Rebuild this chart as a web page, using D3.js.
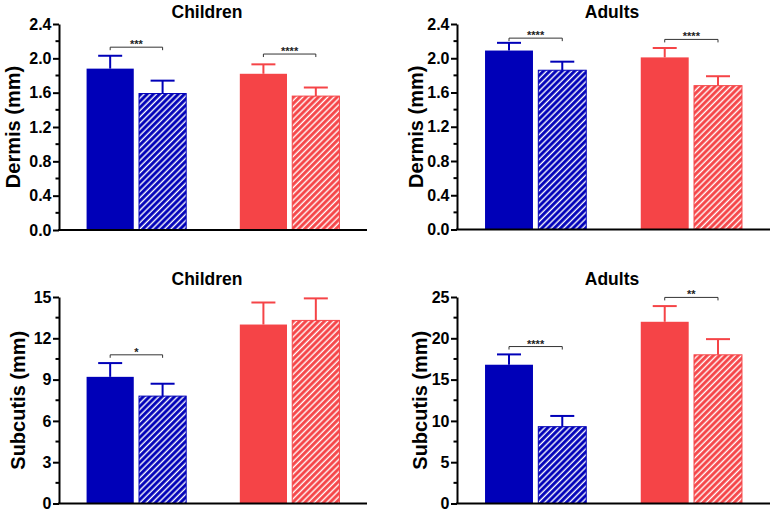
<!DOCTYPE html>
<html><head><meta charset="utf-8">
<script src="https://cdn.jsdelivr.net/npm/d3@7"></script>
<style>body{margin:0;background:#fff}svg{display:block}</style>
</head><body>
<svg id="c" width="776" height="514"></svg>
<script>
// ---- data ----
const groups = ["Group 1", "Group 2"];
const conditions = ["solid", "hatched"];
const dermisChildren = [1.88, 1.59, 1.82, 1.56];
const dermisChildrenErr = [0.15, 0.15, 0.11, 0.10];
const dermisAdults = [2.09, 1.86, 2.01, 1.68];
const dermisAdultsErr = [0.09, 0.10, 0.11, 0.11];
const subcutisChildren = [9.2, 7.8, 13.0, 13.3];
const subcutisChildrenErr = [1.0, 0.9, 1.6, 1.6];
const subcutisAdults = [16.8, 9.3, 22.0, 18.0];
const subcutisAdultsErr = [1.25, 1.3, 1.9, 1.9];
const dermisTicks = [0, 0.4, 0.8, 1.2, 1.6, 2.0, 2.4];
const subChildTicks = [0, 3, 6, 9, 12, 15];
const subAdultTicks = [0, 5, 10, 15, 20, 25];
// significance: [group index, y value, label]
const sigDermisChildren = [[0, 2.13, "***"], [1, 2.05, "****"]];
const sigDermisAdults = [[0, 2.235, "****"], [1, 2.22, "****"]];
const sigSubChildren = [[0, 10.8, "*"]];
const sigSubAdults = [[0, 19.0, "****"], [1, 24.95, "**"]];

const BLUE = "#0000B8", RED = "#F54447";
const colors = [BLUE, RED];

const svg = d3.select("#c");
const defs = svg.append("defs");
colors.forEach((c, i) => {
  const p = defs.append("pattern").attr("id", "hatch" + i)
    .attr("patternUnits", "userSpaceOnUse").attr("width", 4.4).attr("height", 4.4)
    .attr("patternTransform", "rotate(45)");
  p.append("rect").attr("width", 4.4).attr("height", 4.4).attr("fill", c);
  p.append("line").attr("x1", 1.2).attr("x2", 1.2).attr("y1", 0).attr("y2", 4.4)
    .attr("stroke", "#fff").attr("stroke-width", 1.4);
});

const panels = [
  {title: "Children", ylab: "Dermis (mm)", vals: dermisChildren, err: dermisChildrenErr, ticks: dermisTicks, max: 2.4, fmt: d3.format(".1f"), sig: sigDermisChildren,
   x0: 59, x1: 367, y0: 24, y1: 230, labX: 13, titleY: 18, titleX: 207},
  {title: "Adults", ylab: "Dermis (mm)", vals: dermisAdults, err: dermisAdultsErr, ticks: dermisTicks, max: 2.4, fmt: d3.format(".1f"), sig: sigDermisAdults,
   x0: 457, x1: 770, y0: 24, y1: 229.5, labX: 416, titleY: 18, titleX: 612},
  {title: "Children", ylab: "Subcutis (mm)", vals: subcutisChildren, err: subcutisChildrenErr, ticks: subChildTicks, max: 15, fmt: d3.format("d"), sig: sigSubChildren,
   x0: 59, x1: 367, y0: 297, y1: 503.5, labX: 18, titleY: 285, titleX: 207},
  {title: "Adults", ylab: "Subcutis (mm)", vals: subcutisAdults, err: subcutisAdultsErr, ticks: subAdultTicks, max: 25, fmt: d3.format("d"), sig: sigSubAdults,
   x0: 457, x1: 770, y0: 297, y1: 503.5, labX: 420, titleY: 285, titleX: 612}
];

const FONT = "'Liberation Sans', Arial, sans-serif";

panels.forEach(P => {
  const g = svg.append("g");
  const y = d3.scaleLinear().domain([0, P.max]).range([P.y1, P.y0]);
  const xg = d3.scaleBand().domain(groups).range([P.x0, P.x1]).paddingInner(0.35).paddingOuter(0.18);
  const xc = d3.scaleBand().domain(conditions).range([0, xg.bandwidth()]).paddingInner(0.1);

  const data = [];
  groups.forEach((gr, gi) => conditions.forEach((cd, ci) => {
    const k = gi * 2 + ci;
    data.push({gi, ci, gr, cd, v: P.vals[k], e: P.err[k]});
  }));

  // error bars
  data.forEach(d => {
    const cx = xg(d.gr) + xc(d.cd) + xc.bandwidth() / 2;
    const col = colors[d.gi];
    g.append("line").attr("x1", cx).attr("x2", cx).attr("y1", y(d.v)).attr("y2", y(d.v + d.e))
      .attr("stroke", col).attr("stroke-width", 2);
    g.append("line").attr("x1", cx - 12).attr("x2", cx + 12).attr("y1", y(d.v + d.e)).attr("y2", y(d.v + d.e))
      .attr("stroke", col).attr("stroke-width", 2);
  });
  // bars
  g.selectAll("rect.bar").data(data).join("rect").attr("class", "bar")
    .attr("x", d => xg(d.gr) + xc(d.cd))
    .attr("width", xc.bandwidth())
    .attr("y", d => y(d.v))
    .attr("height", d => y(0) - y(d.v))
    .attr("fill", d => d.ci === 0 ? colors[d.gi] : `url(#hatch${d.gi})`)
    .attr("stroke", d => d.ci === 0 ? "none" : colors[d.gi])
    .attr("stroke-width", 1);

  // y axis
  const ax = d3.axisLeft(y).tickValues(P.ticks).tickFormat(P.fmt).tickSize(6).tickSizeOuter(0);
  const ag = g.append("g").attr("transform", `translate(${P.x0},0)`).call(ax);
  ag.select(".domain").attr("stroke", "#000").attr("stroke-width", 2);
  ag.selectAll(".tick line").attr("stroke-width", 2);
  ag.selectAll(".tick text").attr("font-family", FONT).attr("font-weight", "bold").attr("font-size", 16).attr("fill", "#000").attr("x", -7.5);
  // minor ticks
  const minors = [];
  for (let i = 0; i < P.ticks.length - 1; i++) minors.push((P.ticks[i] + P.ticks[i + 1]) / 2);
  g.selectAll("line.minor").data(minors).join("line").attr("class", "minor")
    .attr("x1", P.x0 - 3.5).attr("x2", P.x0).attr("y1", d => y(d)).attr("y2", d => y(d))
    .attr("stroke", "#000").attr("stroke-width", 2);
  // x axis line
  g.append("line").attr("x1", P.x0 - 1).attr("x2", P.x1).attr("y1", y(0)).attr("y2", y(0))
    .attr("stroke", "#000").attr("stroke-width", 2);

  // significance brackets
  P.sig.forEach(([gi, v, lab]) => {
    const gr = groups[gi];
    const xa = xg(gr) + xc(conditions[0]) + xc.bandwidth() / 2;
    const xb = xg(gr) + xc(conditions[1]) + xc.bandwidth() / 2;
    const yy = y(v);
    g.append("path").attr("d", `M${xa},${yy + 3}V${yy}H${xb}V${yy + 3}`)
      .attr("fill", "none").attr("stroke", "#333").attr("stroke-width", 1);
    g.append("text").attr("x", (xa + xb) / 2).attr("y", yy + 1).attr("text-anchor", "middle")
      .attr("font-family", FONT).attr("font-weight", "bold").attr("font-size", 11).attr("fill", "#222").text(lab);
  });

  // title
  g.append("text").attr("x", P.titleX).attr("y", P.titleY).attr("text-anchor", "middle")
    .attr("font-family", FONT).attr("font-weight", "bold").attr("font-size", 17.5).text(P.title);
  // y label
  g.append("text").attr("transform", `translate(${P.labX},${(P.y0 + P.y1) / 2}) rotate(-90)`)
    .attr("text-anchor", "middle").attr("dominant-baseline", "central")
    .attr("font-family", FONT).attr("font-weight", "bold").attr("font-size", 20).text(P.ylab);
});
</script>
</body></html>
